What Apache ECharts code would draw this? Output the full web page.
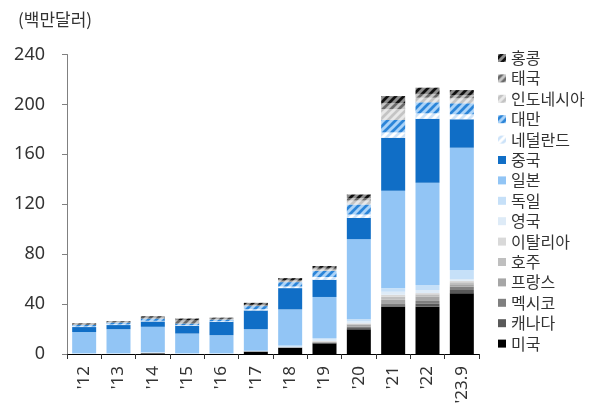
<!DOCTYPE html>
<html><head><meta charset="utf-8">
<script src="https://cdn.jsdelivr.net/npm/echarts@6/dist/echarts.min.js"></script>
<style>html,body{margin:0;padding:0;background:#fff}#c{width:600px;height:408px}</style>
</head><body><div id="c"></div>
<script>
const categories = ["'12","'13","'14","'15","'16","'17","'18","'19","'20","'21","'22","'23.9"];
const yTicks = [0, 40, 80, 120, 160, 200, 240];
const usa       = [0,0,0.3,0,0,2,5,8.5,19.8,37.9,37.9,48.6];
const canada    = [0,0,0.5,0,0,0,0.3,0.5,1.0,1.2,2.3,2.7];
const mexico    = [0,0,0,0,0,0,0,0.3,1.0,1.5,2.3,2.6];
const france    = [0,0,0,0,0,0,0,0.3,1.8,2.8,3.3,2.0];
const australia = [0,0,0,0,0,0,0,0.3,0.5,2.5,2.0,1.6];
const italy     = [0,0,0,0,0,0,0,0.5,0.5,1.5,1.0,1.2];
const uk        = [0.3,0.3,0.3,0.3,0.3,0.3,0.5,1.2,1.5,2.5,2.5,1.4];
const germany   = [0.3,0.3,0.3,0.3,0.3,0.3,1.0,1.3,2.0,2.7,4.0,7.2];
const japan     = [17,19.3,20.4,15.8,14.5,17.3,29,32.8,64,78.3,82,98];
const china     = [4,3.3,4.3,6.3,10.7,15,17,13.8,17,42.4,51.2,22.8];
const netherlands = [0.5,0.5,0.5,0.5,0.5,1,1.3,2.2,2.7,4.3,4.4,4];
const taiwan    = [1.2,1.5,1.8,1.2,1.3,2.5,3.5,4.8,8,9.9,8.8,8.8];
const indonesia = [0,0,0,0,0,0.3,0.5,1.2,3.2,8.8,3.7,4];
const thailand  = [0.5,0.5,0.8,2.5,0.7,0.7,1.2,1.3,2.0,4.6,3,2.6];
const hongkong  = [0.7,0.5,1,1.5,0.8,1.6,1.5,1.5,2.8,5.8,5,4];

function hatch(bg, fg) {
  const c = document.createElement('canvas');
  c.width = 8; c.height = 8;
  const ctx = c.getContext('2d');
  ctx.fillStyle = bg; ctx.fillRect(0, 0, 8, 8);
  ctx.strokeStyle = fg; ctx.lineWidth = 3;
  ctx.beginPath();
  ctx.moveTo(-2, 10); ctx.lineTo(10, -2);
  ctx.moveTo(-6, 6); ctx.lineTo(6, -6);
  ctx.moveTo(2, 14); ctx.lineTo(14, 2);
  ctx.stroke();
  return { image: c, repeat: 'repeat' };
}

const seriesDefs = [
  ['미국', usa, '#000000'],
  ['캐나다', canada, '#595959'],
  ['멕시코', mexico, '#7f7f7f'],
  ['프랑스', france, '#a6a6a6'],
  ['호주', australia, '#bfbfbf'],
  ['이탈리아', italy, '#d9d9d9'],
  ['영국', uk, '#deebf7'],
  ['독일', germany, '#c6e0f8'],
  ['일본', japan, '#92c5f5'],
  ['중국', china, '#106ec6'],
  ['네덜란드', netherlands, hatch('#cde3f9', '#ffffff')],
  ['대만', taiwan, hatch('#2c85d8', '#abd3f8')],
  ['인도네시아', indonesia, hatch('#c4c4c4', '#e8e8e8')],
  ['태국', thailand, hatch('#6a6a6a', '#c6c6c6')],
  ['홍콩', hongkong, hatch('#111111', '#8e8e8e')]
];

const font = 'Noto Sans, Noto Sans CJK KR, sans-serif';
const chart = echarts.init(document.getElementById('c'));
chart.setOption({
  animation: false,
  backgroundColor: '#fff',
  title: {
    text: '(백만달러)', left: 13, top: 6,
    textStyle: { fontSize: 17, fontWeight: 'normal', color: '#333', fontFamily: 'Noto Sans CJK KR' }
  },
  grid: { left: 67, right: 121, top: 54.5, bottom: 54 },
  legend: {
    orient: 'vertical', left: 493, top: 45,
    itemWidth: 8, itemHeight: 8, itemGap: 4.4, icon: 'rect',
    data: seriesDefs.map(d => d[0]).reverse(),
    textStyle: { fontSize: 16, lineHeight: 16, color: '#333', fontFamily: 'Noto Sans CJK KR' }
  },
  xAxis: {
    type: 'category', data: categories,
    axisLine: { lineStyle: { color: '#000', width: 1 } },
    axisTick: { show: true, length: 5, lineStyle: { color: '#333' } },
    axisLabel: { rotate: 90, fontSize: 17, color: '#333', margin: 12, fontFamily: font }
  },
  yAxis: {
    type: 'value', min: yTicks[0], max: yTicks[yTicks.length - 1], interval: 40,
    splitLine: { show: false },
    axisLine: { show: true, lineStyle: { color: '#808080' } },
    axisTick: { show: true, length: 5, lineStyle: { color: '#808080' } },
    axisLabel: { fontSize: 18, color: '#333', margin: 22, fontFamily: font }
  },
  series: seriesDefs.map(d => ({
    name: d[0], type: 'bar', stack: 'total', data: d[1],
    barWidth: 24,
    itemStyle: { color: d[2] }
  }))
});
</script></body></html>
